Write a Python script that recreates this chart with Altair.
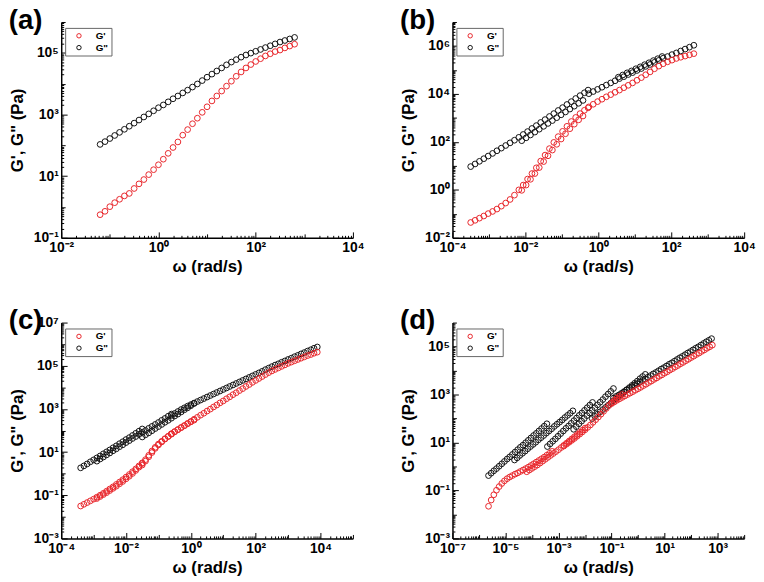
import altair as alt
import pandas as pd

# ---------------- data (log10 of omega [rad/s] and of modulus [Pa]) ----------------
# Panel (a)
A_W = [-1.2, -1.1, -1.0, -0.9, -0.8, -0.7, -0.6, -0.5, -0.4, -0.3, -0.2, -0.1, 0.0, 0.1, 0.2, 0.3,
       0.4, 0.5, 0.6, 0.7, 0.8, 0.9, 1.0, 1.1, 1.2, 1.3, 1.4, 1.5, 1.6, 1.7, 1.8, 1.9, 2.0, 2.1,
       2.2, 2.3, 2.4, 2.5, 2.6, 2.7, 2.8]
A_GP = [-0.25, -0.14, 0.01, 0.14, 0.25, 0.36, 0.44, 0.60, 0.75, 0.89, 1.05, 1.21, 1.37, 1.55, 1.74,
        1.93, 2.11, 2.33, 2.51, 2.70, 2.88, 3.07, 3.25, 3.44, 3.60, 3.76, 3.92, 4.08, 4.24, 4.38,
        4.51, 4.62, 4.72, 4.81, 4.90, 4.97, 5.04, 5.09, 5.16, 5.22, 5.28]
A_GPP = [2.03, 2.12, 2.22, 2.32, 2.42, 2.52, 2.62, 2.72, 2.82, 2.92, 3.02, 3.12, 3.22, 3.31, 3.41,
         3.51, 3.60, 3.70, 3.79, 3.89, 3.99, 4.10, 4.21, 4.31, 4.41, 4.51, 4.61, 4.70, 4.78, 4.86,
         4.93, 4.99, 5.05, 5.11, 5.17, 5.23, 5.29, 5.35, 5.40, 5.45, 5.50]

# Panel (b)
B_W1 = [-3.50, -3.38, -3.26, -3.14, -3.02, -2.90, -2.78, -2.66, -2.54, -2.42, -2.30, -2.18, -2.06,
        -1.94, -1.82, -1.70, -1.58, -1.46, -1.34, -1.22, -1.10, -0.98, -0.86, -0.74, -0.62, -0.50,
        -0.38, -0.28]
B_GP1 = [-1.36, -1.27, -1.18, -1.09, -0.99, -0.90, -0.80, -0.68, -0.55, -0.40, -0.22, 0.00, 0.20,
         0.45, 0.68, 0.92, 1.20, 1.45, 1.72, 1.98, 2.22, 2.44, 2.65, 2.85, 3.02, 3.18, 3.32, 3.42]
B_GPP1 = [0.97, 1.08, 1.19, 1.30, 1.41, 1.52, 1.63, 1.74, 1.85, 1.96, 2.07, 2.19, 2.31, 2.43, 2.56,
          2.68, 2.81, 2.93, 3.06, 3.18, 3.31, 3.43, 3.56, 3.68, 3.81, 3.93, 4.05, 4.16]
B_W2 = [-2.10, -1.98, -1.86, -1.74, -1.62, -1.50, -1.38, -1.26, -1.14, -1.02, -0.90, -0.78, -0.66,
        -0.54, -0.42]
B_GP2 = [-0.02, 0.20, 0.44, 0.68, 0.93, 1.18, 1.42, 1.66, 1.90, 2.12, 2.34, 2.55, 2.74, 2.92, 3.08]
B_GPP2 = [2.05, 2.17, 2.29, 2.41, 2.53, 2.65, 2.77, 2.89, 3.01, 3.13, 3.25, 3.37, 3.49, 3.61, 3.73]
B_W3 = [-0.26, -0.14, -0.02, 0.10, 0.22, 0.34, 0.46, 0.58, 0.70, 0.82, 0.94, 1.06, 1.18, 1.30, 1.42,
        1.54, 1.66, 1.78, 1.90, 2.02, 2.14, 2.26, 2.38, 2.50, 2.62]
B_GP3 = [3.46, 3.57, 3.68, 3.78, 3.88, 3.97, 4.07, 4.16, 4.26, 4.36, 4.46, 4.57, 4.68, 4.80, 4.92,
         5.05, 5.16, 5.26, 5.34, 5.41, 5.48, 5.53, 5.58, 5.63, 5.68]
B_GPP3 = [4.01, 4.10, 4.19, 4.28, 4.37, 4.46, 4.55, 4.64, 4.72, 4.81, 4.89, 4.98, 5.06, 5.15, 5.23,
          5.32, 5.40, 5.49, 5.56, 5.64, 5.71, 5.79, 5.87, 5.95, 6.03]
B_W4 = [0.55, 0.67, 0.79, 0.91, 1.03, 1.15, 1.27, 1.39, 1.51, 1.63, 1.75]
B_GPP4 = [4.70, 4.79, 4.88, 4.96, 5.05, 5.13, 5.22, 5.30, 5.39, 5.47, 5.56]

# Panel (c)
C_W1 = [-3.4, -3.3, -3.2, -3.1, -3.0, -2.9, -2.8, -2.7, -2.6, -2.5, -2.4, -2.3, -2.2, -2.1, -2.0,
        -1.9, -1.8, -1.7, -1.6, -1.5]
C_GP1 = [-1.50, -1.42, -1.34, -1.26, -1.18, -1.09, -1.00, -0.91, -0.81, -0.71, -0.61, -0.50, -0.39,
         -0.28, -0.16, -0.04, 0.09, 0.22, 0.36, 0.50]
C_GPP1 = [0.27, 0.36, 0.45, 0.55, 0.64, 0.73, 0.82, 0.92, 1.01, 1.10, 1.20, 1.29, 1.39, 1.48, 1.58,
          1.67, 1.77, 1.87, 1.97, 2.07]
C_W2 = [-2.9, -2.8, -2.7, -2.6, -2.5, -2.4, -2.3, -2.2, -2.1, -2.0, -1.9, -1.8, -1.7, -1.6, -1.5,
        -1.4, -1.3, -1.2, -1.1, -1.0, -0.9, -0.8, -0.7, -0.6]
C_GP2 = [-1.15, -1.06, -0.97, -0.88, -0.78, -0.68, -0.58, -0.47, -0.36, -0.24, -0.12, 0.01, 0.15,
         0.30, 0.47, 0.65, 0.85, 1.05, 1.22, 1.37, 1.50, 1.62, 1.73, 1.84]
C_GPP2 = [0.58, 0.68, 0.77, 0.87, 0.96, 1.06, 1.15, 1.25, 1.34, 1.44, 1.53, 1.63, 1.72, 1.82, 1.91,
          2.00, 2.10, 2.19, 2.28, 2.37, 2.47, 2.56, 2.66, 2.76]
C_W3 = [-1.5, -1.4, -1.3, -1.2, -1.1, -1.0, -0.9, -0.8, -0.7, -0.6, -0.5, -0.4, -0.3, -0.2, -0.1,
        0.0, 0.1]
C_GP3 = [0.40, 0.58, 0.78, 0.98, 1.17, 1.33, 1.47, 1.60, 1.72, 1.83, 1.94, 2.04, 2.13, 2.22, 2.31,
         2.40, 2.48]
C_GPP3 = [1.70, 1.80, 1.89, 1.99, 2.09, 2.18, 2.28, 2.38, 2.47, 2.57, 2.67, 2.76, 2.86, 2.96, 3.05,
          3.15, 3.25]
C_W4 = [-0.6, -0.5, -0.4, -0.3, -0.2, -0.1, 0.0, 0.1, 0.2, 0.3, 0.4, 0.5, 0.6, 0.7, 0.8, 0.9, 1.0,
        1.1, 1.2, 1.3, 1.4, 1.5, 1.6, 1.7, 1.8, 1.9, 2.0, 2.1, 2.2, 2.3, 2.4, 2.5, 2.6, 2.7, 2.8,
        2.9, 3.0, 3.1, 3.2, 3.3, 3.4, 3.5, 3.6, 3.7, 3.8, 3.9]
C_GP4 = [1.85, 1.95, 2.04, 2.14, 2.23, 2.33, 2.42, 2.52, 2.61, 2.71, 2.80, 2.90, 2.99, 3.09, 3.18,
         3.28, 3.37, 3.47, 3.56, 3.66, 3.75, 3.85, 3.94, 4.04, 4.13, 4.23, 4.32, 4.41, 4.50, 4.59,
         4.68, 4.76, 4.83, 4.90, 4.97, 5.04, 5.11, 5.17, 5.23, 5.29, 5.35, 5.41, 5.47, 5.52, 5.58,
         5.63]
C_GPP4 = [2.70, 2.79, 2.88, 2.97, 3.05, 3.13, 3.20, 3.27, 3.34, 3.41, 3.48, 3.55, 3.62, 3.69, 3.76,
          3.83, 3.90, 3.97, 4.04, 4.11, 4.18, 4.25, 4.32, 4.39, 4.46, 4.53, 4.60, 4.67, 4.74, 4.82,
          4.89, 4.96, 5.03, 5.09, 5.16, 5.22, 5.29, 5.35, 5.42, 5.48, 5.55, 5.61, 5.68, 5.74, 5.81,
          5.87]

# Panel (d)
D_WR1 = [-5.64, -5.54, -5.44, -5.34, -5.24, -5.14, -5.04, -4.94, -4.84, -4.74, -4.64, -4.54, -4.44,
         -4.34, -4.24, -4.14, -4.04, -3.94, -3.84, -3.74, -3.64, -3.54, -3.44, -3.34, -3.24]
D_GP1 = [-1.66, -1.40, -1.18, -0.99, -0.84, -0.71, -0.60, -0.51, -0.44, -0.38, -0.32, -0.27, -0.21,
         -0.15, -0.09, -0.03, 0.04, 0.11, 0.18, 0.25, 0.32, 0.39, 0.47, 0.55, 0.63]
D_WR2 = [-4.2, -4.1, -4.0, -3.9, -3.8, -3.7, -3.6, -3.5, -3.4, -3.3, -3.2, -3.1, -3.0, -2.9, -2.8,
         -2.7, -2.6, -2.5, -2.4, -2.3, -2.2, -2.1, -2.0]
D_GP2 = [-0.22, -0.15, -0.08, -0.01, 0.06, 0.14, 0.22, 0.30, 0.38, 0.46, 0.54, 0.62, 0.70, 0.79,
         0.88, 0.97, 1.06, 1.15, 1.24, 1.33, 1.42, 1.51, 1.60]
D_WR3 = [-2.8, -2.7, -2.6, -2.5, -2.4, -2.3, -2.2, -2.1, -2.0, -1.9, -1.8, -1.7, -1.6, -1.5, -1.4,
         -1.3, -1.2, -1.1, -1.0, -0.9, -0.8, -0.7, -0.6]
D_GP3 = [0.85, 0.93, 1.01, 1.09, 1.17, 1.26, 1.35, 1.44, 1.53, 1.63, 1.73, 1.84, 1.95, 2.06, 2.18,
         2.30, 2.42, 2.54, 2.65, 2.76, 2.85, 2.93, 3.00]
D_WR4 = [-1.0, -0.9, -0.8, -0.7, -0.6, -0.5, -0.4, -0.3, -0.2, -0.1, 0.0, 0.1, 0.2, 0.3, 0.4, 0.5,
         0.6, 0.7, 0.8, 0.9, 1.0, 1.1, 1.2, 1.3, 1.4, 1.5, 1.6, 1.7, 1.8, 1.9, 2.0, 2.1, 2.2, 2.3,
         2.4, 2.5, 2.6, 2.7, 2.8]
D_GP4 = [2.62, 2.69, 2.76, 2.82, 2.88, 2.94, 3.00, 3.06, 3.12, 3.18, 3.24, 3.30, 3.37, 3.43, 3.50,
         3.56, 3.63, 3.69, 3.76, 3.82, 3.89, 3.95, 4.02, 4.08, 4.15, 4.21, 4.28, 4.34, 4.41, 4.47,
         4.54, 4.60, 4.67, 4.73, 4.80, 4.86, 4.93, 4.99, 5.06]
D_WB1 = [-5.64, -5.54, -5.44, -5.34, -5.24, -5.14, -5.04, -4.94, -4.84, -4.74, -4.64, -4.54, -4.44,
         -4.34, -4.24, -4.14, -4.04, -3.94, -3.84, -3.74, -3.64, -3.54, -3.44]
D_GPP1 = [-0.38, -0.28, -0.18, -0.09, 0.01, 0.11, 0.21, 0.31, 0.40, 0.50, 0.60, 0.70, 0.80, 0.89,
          0.99, 1.09, 1.19, 1.29, 1.38, 1.48, 1.58, 1.68, 1.78]
D_WB2 = [-4.66, -4.56, -4.46, -4.36, -4.26, -4.16, -4.06, -3.96, -3.86, -3.76, -3.66, -3.56, -3.46,
         -3.36, -3.26, -3.16, -3.06, -2.96, -2.86, -2.76, -2.66, -2.56, -2.46]
D_GPP2 = [0.27, 0.36, 0.46, 0.55, 0.64, 0.74, 0.83, 0.92, 1.01, 1.11, 1.20, 1.29, 1.39, 1.48, 1.57,
          1.67, 1.76, 1.85, 1.94, 2.04, 2.13, 2.22, 2.32]
D_WB3 = [-3.42, -3.32, -3.22, -3.12, -3.02, -2.92, -2.82, -2.72, -2.62, -2.52, -2.42, -2.32, -2.22,
         -2.12, -2.02, -1.92, -1.82, -1.72]
D_GPP3 = [0.83, 0.94, 1.05, 1.15, 1.26, 1.37, 1.48, 1.59, 1.69, 1.80, 1.91, 2.02, 2.13, 2.23, 2.34,
          2.45, 2.56, 2.67]
D_WB4 = [-2.43, -2.33, -2.23, -2.13, -2.03, -1.93, -1.83, -1.73, -1.63, -1.53, -1.43, -1.33, -1.23,
         -1.13, -1.03, -0.93]
D_GPP4 = [1.55, 1.66, 1.78, 1.89, 2.00, 2.12, 2.23, 2.34, 2.45, 2.57, 2.68, 2.79, 2.91, 3.02, 3.13,
          3.25]
D_WB5 = [-1.73, -1.63, -1.53, -1.43, -1.33, -1.23, -1.13, -1.03, -0.93, -0.83, -0.73, -0.63, -0.53,
         -0.43, -0.33, -0.23, -0.13, -0.03, 0.07, 0.17, 0.27]
D_GPP5 = [2.00, 2.09, 2.18, 2.28, 2.37, 2.46, 2.55, 2.64, 2.74, 2.83, 2.92, 3.01, 3.10, 3.20, 3.29,
          3.38, 3.47, 3.56, 3.66, 3.75, 3.84]
D_WB6 = [-0.93, -0.83, -0.73, -0.63, -0.53, -0.43, -0.33, -0.23, -0.13, -0.03, 0.07, 0.17, 0.27,
         0.37, 0.47, 0.57, 0.67, 0.77, 0.87, 0.97, 1.07, 1.17, 1.27, 1.37, 1.47, 1.57, 1.67, 1.77,
         1.87, 1.97, 2.07, 2.17, 2.27, 2.37, 2.47, 2.57, 2.67, 2.77]
D_GPP6 = [2.85, 2.92, 2.98, 3.05, 3.12, 3.19, 3.25, 3.32, 3.39, 3.45, 3.52, 3.59, 3.65, 3.72, 3.79,
          3.86, 3.92, 3.99, 4.06, 4.12, 4.19, 4.26, 4.32, 4.39, 4.46, 4.53, 4.59, 4.66, 4.73, 4.79,
          4.86, 4.93, 4.99, 5.06, 5.13, 5.20, 5.26, 5.33]

SERIES = ["G'", 'G"']
COLORS = ["#e8262b", "#111111"]

FONT = "Liberation Sans"
SUP = str.maketrans("0123456789-", "⁰¹²³⁴⁵⁶⁷⁸⁹⁻")


def frame(gp_parts, gpp_parts):
    rows = []
    for name, parts in ((SERIES[0], gp_parts), (SERIES[1], gpp_parts)):
        for lw, lg in parts:
            for a, b in zip(lw, lg):
                rows.append({"w": 10 ** a, "G": 10 ** b, "s": name})
    return pd.DataFrame(rows)


def tick_values(lo, hi):
    vals = []
    for e in range(lo, hi):
        for m in range(1, 10):
            vals.append(m * 10.0 ** e)
    vals.append(10.0 ** hi)
    return vals


def make_axis(lo, hi, labeled, title, orient, title_pad):
    lg = "round(log(datum.value)/LN10)"
    isdec = f"abs(log(datum.value)/LN10 - {lg}) < 0.001"
    lab = f"({isdec}) && indexof({labeled}, {lg}) >= 0"
    parts = " : ".join(f"{lg} == {e} ? '10{str(e).translate(SUP)}'" for e in labeled)
    label_expr = f"({lab}) ? ({parts} : '') : ''"
    return alt.Axis(
        values=tick_values(lo, hi),
        labelExpr=label_expr,
        title=title,
        orient=orient,
        grid=False,
        labelOverlap=False,
        labelFlush=False,
        labelFont=FONT,
        labelFontWeight="bold",
        labelFontSize=14,
        labelColor="black",
        labelPadding=9,
        titleFont=FONT,
        titleFontWeight="bold",
        titleFontSize=17,
        titleColor="black",
        titlePadding=title_pad,
        domainColor="black",
        domainWidth=1.5,
        tickColor="black",
        tickWidth=1,
        tickSize={"condition": [{"test": lab, "value": -6},
                                {"test": isdec, "value": -4}],
                  "value": -2.5},
    )


def panel(tag, df, xlo, xhi, xlab, ylo, yhi, ylab):
    return alt.Chart(df).mark_point(
        shape="circle", filled=False, size=34, strokeWidth=1, opacity=1
    ).encode(
        x=alt.X("w:Q", scale=alt.Scale(type="log", domain=[10.0 ** xlo, 10.0 ** xhi], nice=False),
                axis=make_axis(xlo, xhi, xlab, "ω (rad/s)", "bottom", 1)),
        y=alt.Y("G:Q", scale=alt.Scale(type="log", domain=[10.0 ** ylo, 10.0 ** yhi], nice=False),
                axis=make_axis(ylo, yhi, ylab, 'G\', G" (Pa)', "left", 7)),
        color=alt.Color("s:N", scale=alt.Scale(domain=SERIES, range=COLORS),
                        legend=alt.Legend(title=None, orient="none", legendX=4, legendY=6,
                                          strokeColor="#666666", padding=3, fillColor="white",
                                          labelFont=FONT, labelFontWeight="bold", labelFontSize=10,
                                          labelColor="black", symbolSize=20, symbolStrokeWidth=1,
                                          symbolType="circle", rowPadding=2, labelOffset=12,
                                          symbolOffset=6)),
        order=alt.Order("s:N"),
    ).properties(
        width=296, height=219,
        title=alt.TitleParams(tag, anchor="start", frame="bounds", font=FONT, fontSize=28,
                              fontWeight="bold", color="black", offset=-20),
    )


pa = panel("(a)", frame([(A_W, A_GP)], [(A_W, A_GPP)]), -2, 4, [-2, 0, 2, 4], -1, 6, [-1, 1, 3, 5])
pb = panel("(b)", frame([(B_W1, B_GP1), (B_W2, B_GP2), (B_W3, B_GP3)],
                        [(B_W1, B_GPP1), (B_W2, B_GPP2), (B_W3, B_GPP3), (B_W4, B_GPP4)]),
           -4, 4, [-4, -2, 0, 2, 4], -2, 7, [-2, 0, 2, 4, 6])
pc = panel("(c)", frame([(C_W1, C_GP1), (C_W2, C_GP2), (C_W3, C_GP3), (C_W4, C_GP4)],
                        [(C_W1, C_GPP1), (C_W2, C_GPP2), (C_W3, C_GPP3), (C_W4, C_GPP4)]),
           -4, 5, [-4, -2, 0, 2, 4], -3, 7, [-3, -1, 1, 3, 5, 7])
pd_ = panel("(d)", frame([(D_WR1, D_GP1), (D_WR2, D_GP2), (D_WR3, D_GP3), (D_WR4, D_GP4)],
                         [(D_WB1, D_GPP1), (D_WB2, D_GPP2), (D_WB3, D_GPP3), (D_WB4, D_GPP4),
                          (D_WB5, D_GPP5), (D_WB6, D_GPP6)]),
            -7, 4, [-7, -5, -3, -1, 1, 3], -3, 6, [-3, -1, 1, 3, 5])

row1 = alt.hconcat(pa, pb, spacing=101, bounds="flush").resolve_scale(
    x="independent", y="independent", color="independent")
row2 = alt.hconcat(pc, pd_, spacing=101, bounds="flush").resolve_scale(
    x="independent", y="independent", color="independent")
chart = alt.vconcat(row1, row2, spacing=33).resolve_scale(
    x="independent", y="independent", color="independent"
).configure(
    background="white", padding={"left": 0, "top": -5, "right": 0, "bottom": 0}
).configure_view(stroke="transparent", strokeWidth=0)

chart.save("out.html", embed_options={"renderer": "svg", "actions": False})
